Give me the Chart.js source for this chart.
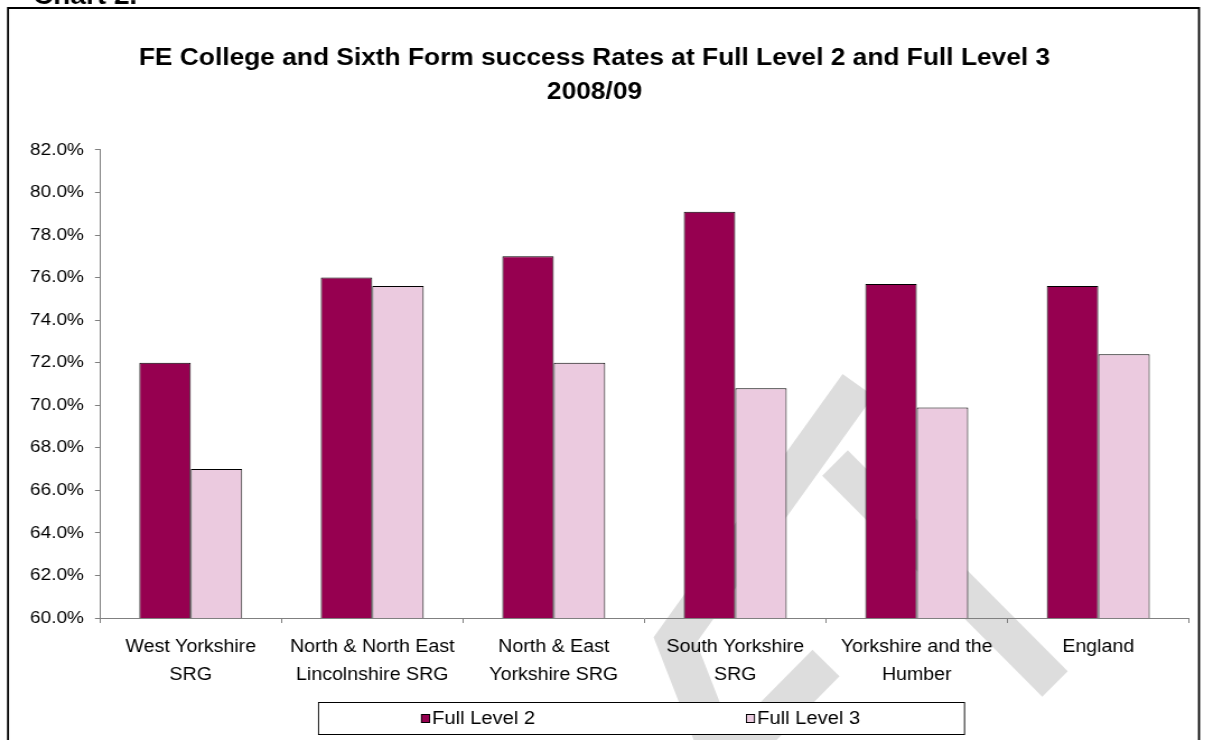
<!DOCTYPE html>
<html>
<head>
<meta charset="utf-8">
<title>FE College and Sixth Form success Rates</title>
<script src="https://cdn.jsdelivr.net/npm/chart.js@4.4.1/dist/chart.umd.min.js"></script>
<style>
  html, body { margin: 0; padding: 0; background: #fff; overflow: hidden; }
  #wrap { width: 1080px; height: 740px; transform: scaleX(1.12); transform-origin: 0 0; }
</style>
</head>
<body>
<div id="wrap"><canvas id="chart"></canvas></div>
<script>
// data
var categories = [
    ['West Yorkshire', 'SRG'],
    ['North & North East', 'Lincolnshire SRG'],
    ['North & East', 'Yorkshire SRG'],
    ['South Yorkshire', 'SRG'],
    ['Yorkshire and the', 'Humber'],
    ['England']
];
var fullLevel2 = [72.0, 76.0, 77.0, 79.1, 75.7, 75.6];
var fullLevel3 = [67.0, 75.6, 72.0, 70.8, 69.9, 72.4];
var seriesNames = ['Full Level 2', 'Full Level 3'];
var yMin = 60, yMax = 82, yStep = 2;
var titleLines = ['FE College and Sixth Form success Rates at Full Level 2 and Full Level 3', '2008/09'];

var SX = 1.12;              // the source picture is stretched sideways
var FONT = '"Liberation Sans", Arial, sans-serif';

// page decoration: frame, caption, watermark, legend box
var decor = {
    id: 'decor',
    beforeDraw: function(chart) {
        var ctx = chart.ctx;
        ctx.save();
        ctx.scale(1 / SX, 1);

        // faint DRAFT watermark fragments
        ctx.strokeStyle = '#dddddd';
        ctx.lineCap = 'butt';
        ctx.lineJoin = 'miter';
        ctx.lineWidth = 38;
        ctx.beginPath();
        ctx.moveTo(858, 385);
        ctx.lineTo(675, 640);
        ctx.lineTo(718, 750);
        ctx.stroke();
        ctx.lineWidth = 36;
        ctx.beginPath();
        ctx.moveTo(835, 463);
        ctx.lineTo(1055, 684);
        ctx.stroke();
        ctx.lineWidth = 38;
        ctx.beginPath();
        ctx.moveTo(826, 663);
        ctx.lineTo(735, 755);
        ctx.stroke();

        // legend box
        ctx.fillStyle = '#fff';
        ctx.fillRect(318, 702, 646, 32);
        ctx.strokeStyle = '#000';
        ctx.lineWidth = 1;
        ctx.strokeRect(318.5, 702.5, 646, 32);

        // legend markers
        var ds = chart.data.datasets;
        var markX = [421, 746];
        for (var i = 0; i < ds.length; i++) {
            ctx.fillStyle = ds[i].backgroundColor;
            ctx.fillRect(markX[i], 714, 9, 9);
            ctx.strokeRect(markX[i] + 0.5, 714.5, 8, 8);
        }

        // outer frame
        ctx.lineWidth = 2;
        ctx.strokeRect(8, 8, 1191, 760);
        ctx.restore();

        // caption above the frame (cut off at the top of the page)
        ctx.save();
        ctx.fillStyle = '#000';
        ctx.font = 'bold 25px ' + FONT;
        ctx.textBaseline = 'alphabetic';
        ctx.fillText('Chart 2.', 33 / SX, 4);

        // legend text
        ctx.font = '18px ' + FONT;
        ctx.textBaseline = 'middle';
        for (var j = 0; j < ds.length; j++) {
            ctx.fillText(ds[j].label, (markX[j] + 11) / SX, 719);
        }
        ctx.restore();
    }
};

new Chart(document.getElementById('chart'), {
    type: 'bar',
    data: {
        labels: categories,
        datasets: [{
            label: seriesNames[0],
            data: fullLevel2,
            backgroundColor: '#960050',
            borderColor: '#000',
            borderWidth: 1,
            categoryPercentage: 0.567,
            barPercentage: 1.0
        }, {
            label: seriesNames[1],
            data: fullLevel3,
            backgroundColor: '#ebcadf',
            borderColor: '#000',
            borderWidth: 1,
            categoryPercentage: 0.567,
            barPercentage: 1.0
        }]
    },
    options: {
        responsive: true,
        maintainAspectRatio: false,
        animation: false,
        layout: {
            padding: { top: 8, left: 0, right: 18.4, bottom: 0 }
        },
        plugins: {
            legend: { display: false },
            tooltip: { enabled: false },
            title: {
                display: true,
                text: titleLines,
                color: '#000',
                font: { family: FONT, size: 23.5, weight: 'bold', lineHeight: 1.45 },
                padding: { top: 33, bottom: 40.8 }
            }
        },
        scales: {
            x: {
                grid: {
                    offset: true,
                    drawOnChartArea: false,
                    drawTicks: true,
                    tickLength: 5,
                    color: '#808080'
                },
                border: { color: '#808080', width: 1 },
                ticks: {
                    color: '#000',
                    padding: 11,
                    maxRotation: 0,
                    autoSkip: false,
                    font: { family: FONT, size: 17.5, lineHeight: 1.55 }
                },
                afterFit: function(scale) { scale.height = 122; }
            },
            y: {
                min: yMin,
                max: yMax,
                grid: {
                    drawOnChartArea: false,
                    drawTicks: true,
                    tickLength: 4.5,
                    color: '#808080'
                },
                border: { color: '#808080', width: 1 },
                ticks: {
                    stepSize: yStep,
                    color: '#000',
                    padding: 9.8,
                    font: { family: FONT, size: 17 },
                    callback: function(v) { return v.toFixed(1) + '%'; }
                },
                afterFit: function(scale) { scale.width = 89.29; }
            }
        }
    },
    plugins: [decor]
});
</script>
</body>
</html>
